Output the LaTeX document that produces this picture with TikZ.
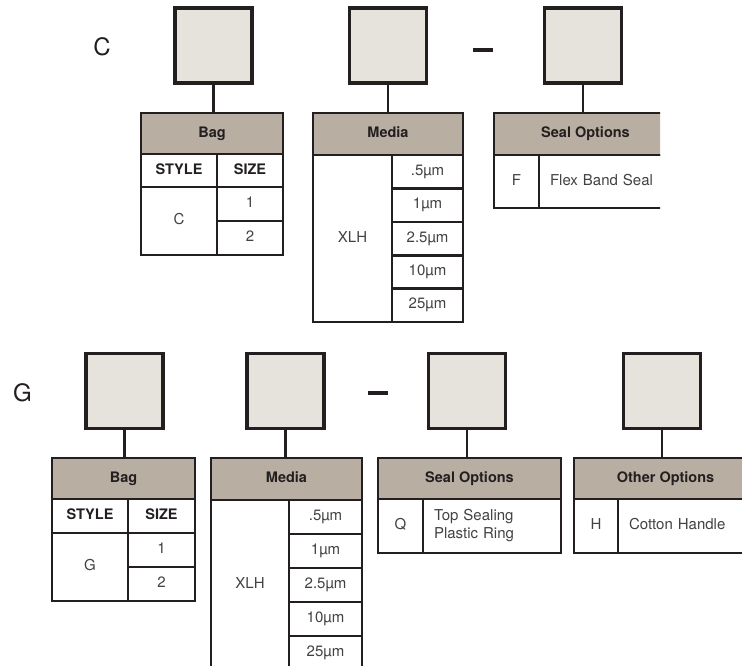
\documentclass[tikz,border=0pt]{standalone}
\usepackage{fontspec}
\setmainfont{TeX Gyre Heros}
\usepackage{tikz}

\definecolor{boxgray}{HTML}{E6E2DC}
\definecolor{headtan}{HTML}{B9AEA2}
\definecolor{ink}{HTML}{231F20}

\tikzset{
  sz/.style 2 args={minimum width=#1pt,minimum height=#2pt},
  pick/.style={draw=ink,fill=boxgray,line width=3.1pt,sz={77}{75}},
  head/.style={draw=ink,fill=headtan,line width=2.8pt,text=ink,
    font=\bfseries\fontsize{14.5}{16}\selectfont,text height=0.72em,text depth=0pt},
  cell/.style={draw=ink,fill=white,line width=2.6pt,text=ink!85,
    font=\fontsize{15}{18.5}\selectfont,text height=0.72em,text depth=0pt},
  colhead/.style={cell,text=ink,font=\bfseries\fontsize{14.5}{16}\selectfont},
  lcell/.style={cell,align=left,inner xsep=11pt,text width=#1pt},
  tag/.style={text=ink,font=\fontsize{24}{28}\selectfont},
  link/.style={draw=ink,line width=2.7pt}
}

\begin{document}
\begin{tikzpicture}
    [x=1pt,y=-1pt,every node/.style={inner sep=0pt,outer sep=0pt}]
    \useasboundingbox (0,0) rectangle (742,665);
    \clip (0,0) rectangle (742,665);

    % style C
    \node[tag] (lblC) at (102,46.5) {C};
    \node[pick] (boxC1) at (213.5,45.5) {};
    \node[pick] (boxC2) at (388,45.5) {};
    \node[pick] (boxC3) at (583,45.5) {};
    \fill[ink] (473,48.3) rectangle (493,51.7);

    \node[head,sz={142}{41}] (bagC) at (212,133.5) {Bag};
    \node[colhead,sz={76}{33}] (styleC) at (179,170.5) {STYLE};
    \node[colhead,sz={66}{33}] (sizeC) at (250,170.5) {SIZE};
    \node[cell,sz={76}{68}] (styC) at (179,221) {C};
    \node[cell,sz={66}{34}] (sizC1) at (250,204) {1};
    \node[cell,sz={66}{34}] (sizC2) at (250,238) {2};

    \node[head,sz={150}{42}] (mediaC) at (388,134) {Media};
    \node[cell,sz={79}{167}] (xlhC) at (352.5,238.5) {XLH};
    \foreach \i/\t in {0/.5µm,1/1µm,2/2.5µm,3/10µm,4/25µm}
    \node[cell,sz={71}{33.4}] (micC\i) at (427.5,{171.7+33.4*\i}) {\t};

    \begin{scope}
    \clip (0,0) rectangle (660,330);
    \node[head,sz={183}{42}] (sealC) at (585.5,134) {Seal Options};
    \node[cell,sz={45}{53}] (codeF) at (516.5,181.5) {F};
    \node[lcell=116,sz={138}{53}] (flex) at (608,181.5) {Flex Band Seal};
    \end{scope}

    \foreach \from/\to in {boxC1/bagC,boxC2/mediaC,boxC3/sealC}
    \draw[link] (\from.south) -- (\from.south |- \to.north);

    % style G
    \node[tag] (lblG) at (22.5,393) {G};
    \node[pick] (boxG1) at (124.5,391) {};
    \node[pick] (boxG2) at (285.5,391) {};
    \node[pick] (boxG3) at (467,391) {};
    \node[pick] (boxG4) at (662,391) {};
    \fill[ink] (368,391.3) rectangle (388,394.7);

    \node[head,sz={143}{41}] (bagG) at (123.5,478.5) {Bag};
    \node[colhead,sz={76}{34}] (styleG) at (90,516) {STYLE};
    \node[colhead,sz={67}{34}] (sizeG) at (161.5,516) {SIZE};
    \node[cell,sz={76}{68}] (styG) at (90,567) {G};
    \node[cell,sz={67}{34}] (sizG1) at (161.5,550) {1};
    \node[cell,sz={67}{34}] (sizG2) at (161.5,584) {2};

    \node[head,sz={151}{42}] (mediaG) at (286.5,479) {Media};
    \node[cell,sz={78}{170}] (xlhG) at (250,585) {XLH};
    \foreach \i/\t in {0/.5µm,1/1µm,2/2.5µm,3/10µm,4/25µm}
    \node[cell,sz={73}{34}] (micG\i) at (325.5,{517+34*\i}) {\t};

    \node[head,sz={183}{41}] (sealG) at (469.5,478.5) {Seal Options};
    \node[cell,sz={45}{54}] (codeQ) at (400.5,526) {Q};
    \node[lcell=116,sz={138}{54},text depth=18.5pt] (ring) at (492,526) {Top Sealing\\Plastic Ring};

    \node[head,sz={183}{41}] (otherG) at (665.5,478.5) {Other Options};
    \node[cell,sz={44}{54}] (codeH) at (596,526) {H};
    \node[lcell=117,sz={139}{54}] (handle) at (687.5,526) {Cotton Handle};

    \foreach \from/\to in {boxG1/bagG,boxG2/mediaG,boxG3/sealG,boxG4/otherG}
    \draw[link] (\from.south) -- (\from.south |- \to.north);
\end{tikzpicture}
\end{document}
